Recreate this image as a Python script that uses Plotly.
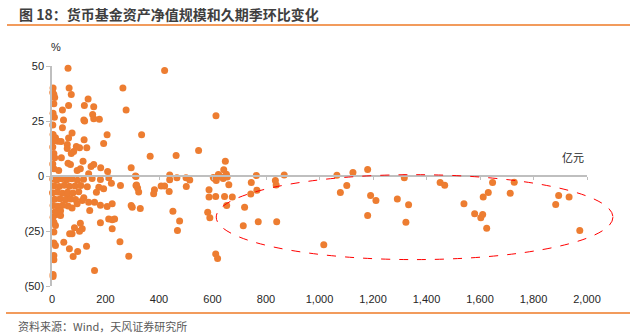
import plotly.graph_objects as go

# ---------------- data ----------------
aum_x = [
    60, 421, 4, 3, 7, 10, 64, 72, 265, 7, 62, 39, 135, 121, 156, 277, 4, 9, 43, 39,
    119, 122, 152, 156, 177, 3, 4, 13, 22, 34, 7, 75, 62, 120, 206, 193, 335, 3, 7, 10,
    57, 57, 72, 81, 91, 103, 130, 116, 35, 60, 69, 7, 25, 3, 146, 156, 182, 208, 296, 367,
    464, 548, 613, 648, 642, 312, 440, 1125, 1180, 764, 868, 1065, 622, 652, 94, 106, 137,
    # below / around zero
    467, 440, 501, 515, 316, 320, 324, 383, 380, 408, 421, 438, 502, 300, 330, 452, 477, 469,
    287, 612, 619, 582, 590, 587, 587, 612, 645, 674, 653, 661, 629, 640, 655, 607, 614, 603,
    720, 715, 745, 743, 766, 771, 835, 838, 840, 1016, 1078, 1102, 1191, 1211, 1180, 1291,
    1317, 1333, 1323, 1451, 1468, 1540, 1580, 1610, 1603, 1625, 1612, 1631, 1647, 1713,
    1728, 1883, 1894, 1933, 1973,
    181, 212, 222, 256, 314, 314, 193, 175, 166, 119, 137, 159, 94, 75, 141, 206, 225, 296,
    181, 212, 225, 106, 113, 103, 84, 75, 66, 7, 13, 7, 17, 4, 32, 225, 7, 13, 44, 65, 96,
    129, 79, 7, 7, 254, 159, 4, 4, 113, 181, 234, 57,
    # cluster near the origin
    3, 18, 36, 55, 74, 95, 118, 150,
    8, 27, 46, 65, 86, 108, 132,
    2, 20, 39, 58, 78, 100,
    10, 30, 50, 70, 88,
    4, 22, 40, 60,
    12, 32,
]
duration_chg = [
    49, 48, 40, 38, 37, 35.7, 40, 37, 40, 32.8, 32, 30, 35, 32, 31.5, 30, 28.5, 26.7, 25.5, 21.9,
    25.5, 25, 28, 26, 25.8, 23.2, 18.9, 17.4, 15.8, 15.7, 16, 19.6, 17.3, 16.5, 18.7, 14.8, 18.8, 13.2, 10.2, 8.3,
    14.3, 12.5, 10.2, 11.1, 13.4, 12.8, 12.8, 6.7, 8.3, 5.8, 5.2, 3.3, 2.5, 5.5, 4.3, 5.2, 3.7, 2, 3.7, 9,
    9.3, 11.6, 27.4, 6.7, 2.8, 0, 0.5, 1.6, 3, 0.2, 0.5, 0.3, 0.7, 0.8, 2.5, 3.3, 1,
    -0.8, -1.7, -0.8, -1.8, -4.1, -5.5, -7.3, -6.3, -8.1, -4.5, -4.5, -7, -4.8, -14.2, -14.8, -16, -20.5, -24.8,
    -36.5, -35.4, -37.5, -16.5, -19, -6.3, -9.6, -9.3, -9.3, -9.6, -13.4, -4, -0.2, -1.1, -0.5, -1.1, -2, -0.7,
    -14.2, -22.6, -3, -8.2, -6.5, -20.8, -2.1, -4.1, -20.8, -31.2, -7.5, -4.3, -8.9, -11.1, -18, -10.5,
    -0.8, -13.1, -21, -3, -4.2, -12.6, -17.2, -17.5, -19, -23.7, -9.6, -7.5, -3, -7.8,
    -2.8, -13, -8.9, -9.6, -24.8,
    -1.6, -0.8, -3.3, -4.3, -0.2, -4.3, -5.8, -5.1, -7.4, -9.9, -11.9, -11.9, -12.6, -14.5, -15.7, -13.9, -12.6, -13.4,
    -21.3, -19.5, -19.9, -21.5, -24, -25.1, -23.5, -26.3, -26.3, -21, -22.5, -25.5, -17.5, -18.7, -18, -24, -30.5, -31.6, -30.1, -33.1, -34.3,
    -31.9, -36.6, -36.1, -38.1, -29.9, -43, -44.8, -45.7, -11.1, -13.3, -19.5, -8.4,
    -1.4, -1.8, -1.2, -1.7, -1.3, -1.9, -1.5, -1.1,
    -4.4, -4.8, -4.2, -4.7, -4.5, -4.3, -4.9,
    -7.6, -7.3, -7.8, -7.4, -7.7, -7.2,
    -10.6, -10.3, -10.8, -10.4, -10.7,
    -13.4, -13.8, -13.3, -13.6,
    -16.2, -15.8,
]

x_ticks = [0, 200, 400, 600, 800, 1000, 1200, 1400, 1600, 1800, 2000]
y_ticks = [-50, -25, 0, 25, 50]
y_tick_text = ["(50)", "(25)", "0", "25", "50"]
x_range = [0, 2000]
y_range = [-50, 50]

# highlighted region (red dashed ellipse), in data units
ellipse_x = [614, 2097]
ellipse_y = [-38, 0.6]

title_text = "图 18：货币基金资产净值规模和久期季环比变化"
source_text = "资料来源：Wind，天风证券研究所"

# ---------------- layout helpers ----------------
W, H = 638, 336
ML, MR, MT, MB = 52, 51, 66, 50
PW, PH = W - ML - MR, H - MT - MB


def px_x(p):
    return (p - ML) / PW


def px_y(p):
    return (H - MB - p) / PH


def dx(v):
    return (v - x_range[0]) / (x_range[1] - x_range[0])


def dy(v):
    return (v - y_range[0]) / (y_range[1] - y_range[0])


ORANGE = "#ED7D31"
AXIS = "#BFBFBF"
NUM_FONT = "Liberation Sans, Arial, sans-serif"
CJK_FONT = "Noto Sans CJK SC, sans-serif"

fig = go.Figure()
fig.add_trace(go.Scatter(
    x=aum_x, y=duration_chg, mode="markers",
    marker=dict(size=7, color=ORANGE, line=dict(width=0)),
    cliponaxis=False, showlegend=False, hoverinfo="skip",
))
# empty trace so the zero-line axis is drawn
fig.add_trace(go.Scatter(x=[], y=[], xaxis="x2", yaxis="y", showlegend=False))

fig.update_layout(
    width=W, height=H,
    margin=dict(l=ML, r=MR, t=MT, b=MB),
    paper_bgcolor="white", plot_bgcolor="white",
    font=dict(family=NUM_FONT, size=11, color="#262626"),
    xaxis=dict(
        range=x_range, tickvals=x_ticks, tickformat=",d",
        showline=False, showgrid=False, zeroline=False, ticks="",
        tickfont=dict(family=NUM_FONT, size=11, color="#262626"),
        ticklabelstandoff=5,
    ),
    xaxis2=dict(
        overlaying="x", matches="x", anchor="free", position=dy(0),
        tickvals=x_ticks, showticklabels=False,
        showline=True, linecolor=AXIS, linewidth=1.5,
        ticks="outside", ticklen=3, tickcolor=AXIS, tickwidth=1,
        showgrid=False, zeroline=False,
    ),
    yaxis=dict(
        range=y_range, tickvals=y_ticks, ticktext=y_tick_text,
        showline=True, linecolor=AXIS, linewidth=1.5,
        ticks="outside", ticklen=4, tickcolor=AXIS,
        showgrid=False, zeroline=False,
        tickfont=dict(family=NUM_FONT, size=11, color="#262626"),
    ),
    shapes=[
        dict(type="line", xref="paper", yref="paper",
             x0=px_x(7), x1=px_x(630), y0=px_y(25), y1=px_y(25),
             line=dict(color="#EE7A26", width=1.5)),
        dict(type="line", xref="paper", yref="paper",
             x0=px_x(6), x1=px_x(630), y0=px_y(313), y1=px_y(313),
             line=dict(color="#EE7A26", width=1.5)),
        dict(type="circle", xref="paper", yref="paper",
             x0=dx(ellipse_x[0]), x1=dx(ellipse_x[1]),
             y0=dy(ellipse_y[0]), y1=dy(ellipse_y[1]),
             line=dict(color="#FF0000", width=1, dash="dash")),
    ],
    annotations=[
        dict(text="<b>" + title_text + "</b>", xref="paper", yref="paper",
             x=px_x(17), y=px_y(14), xanchor="left", yanchor="middle",
             showarrow=False, font=dict(family=CJK_FONT, size=14, color="#3F3F3F")),
        dict(text=source_text, xref="paper", yref="paper",
             x=px_x(16), y=px_y(326), xanchor="left", yanchor="middle",
             showarrow=False, font=dict(family=CJK_FONT, size=11, color="#595959")),
        dict(text="%", xref="paper", yref="paper",
             x=px_x(56), y=px_y(47), xanchor="center", yanchor="middle",
             showarrow=False, font=dict(family=NUM_FONT, size=11, color="#262626")),
        dict(text="亿元", xref="paper", yref="paper",
             x=px_x(573), y=px_y(157), xanchor="center", yanchor="middle",
             showarrow=False, font=dict(family=CJK_FONT, size=11, color="#262626")),
    ],
)

fig.write_html("out.html")
